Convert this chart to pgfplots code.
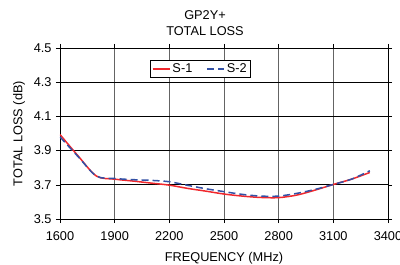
\documentclass[border=0pt]{standalone}
\usepackage{fontspec}
\setmainfont{Liberation Sans}
\usepackage{pgfplots}
\pgfplotsset{compat=1.18}
\definecolor{sred}{RGB}{240,40,45}
\definecolor{sblue}{RGB}{50,80,165}
\definecolor{vgrid}{RGB}{100,100,100}
\begin{document}
\begin{tikzpicture}[x=1bp,y=1bp]
\begin{axis}[
  at={(0,0)}, anchor=south west,
  scale only axis, width=328bp, height=171bp,
  xmin=1600, xmax=3400, ymin=3.5, ymax=4.5,
  xtick={1600,1900,2200,2500,2800,3100,3400},
  ytick={3.5,3.7,3.9,4.1,4.3,4.5},
  yticklabel style={/pgf/number format/.cd, fixed, fixed zerofill, precision=1},
  xticklabel style={/pgf/number format/.cd, 1000 sep={}},
  xticklabel shift=5bp,
  yticklabel shift=1bp,
  /pgf/number format/assume math mode=true,
  tick align=outside, major tick length=4bp,
  tick style={black, line width=0.6bp},
  xmajorgrids, ymajorgrids,
  x grid style={vgrid, line width=0.8bp},
  y grid style={black, line width=0.8bp},
  axis line style={black, line width=0.8bp},
  font=\fontsize{12.8}{14}\selectfont,
  xlabel={FREQUENCY (MHz)}, ylabel={TOTAL LOSS (dB)},
  xlabel style={at={(axis description cs:0.5,-0.23)}, anchor=center},
  ylabel style={at={(axis description cs:-0.125,0.5)}, anchor=center},
  legend columns=2,
  legend style={at={(rel axis cs:0.275,0.93)}, anchor=north west,
    draw=black, line width=0.6bp, inner sep=1.5bp,
    font=\fontsize{12.8}{14}\selectfont,
    /tikz/every even column/.append style={column sep=12bp}},
  legend cell align=left,
]
\addplot[sred, line width=1.5bp, smooth, tension=0.5] coordinates {
(1600,3.994) (1700,3.868) (1800,3.751) (1900,3.733) (2000,3.722) (2100,3.710)
(2200,3.698) (2300,3.679) (2400,3.663) (2500,3.646) (2600,3.634) (2700,3.626)
(2800,3.625) (2900,3.640) (3000,3.669) (3100,3.702) (3200,3.733) (3300,3.772)};
\addlegendentry{S-1}
\addplot[sblue, line width=1.5bp, dash pattern=on 7bp off 4bp, smooth, tension=0.5] coordinates {
(1600,3.980) (1700,3.864) (1800,3.751) (1900,3.737) (2000,3.730) (2100,3.726)
(2200,3.718) (2300,3.697) (2400,3.677) (2500,3.660) (2600,3.644) (2700,3.634)
(2800,3.634) (2900,3.650) (3000,3.673) (3100,3.702) (3200,3.733) (3300,3.782)};
\addlegendentry{S-2}
\end{axis}
\node[align=center, font=\fontsize{12.8}{16}\selectfont] at (145,196) {GP2Y+\\TOTAL LOSS};
\pgfresetboundingbox
\path (-60,-46) rectangle (340,219);
\end{tikzpicture}
\end{document}
